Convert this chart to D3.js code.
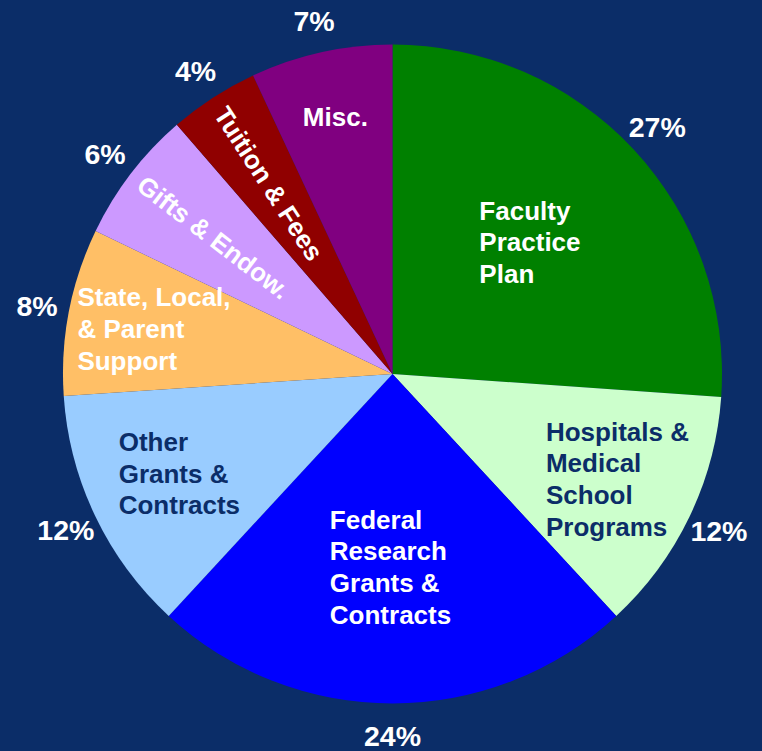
<!DOCTYPE html>
<html>
<head>
<meta charset="utf-8">
<script src="https://cdn.jsdelivr.net/npm/d3@7"></script>
<style>
  body { margin: 0; background: #0b2d68; }
  svg { display: block; }
  text { font-family: "Liberation Sans", Arial, sans-serif; font-weight: bold; }
</style>
</head>
<body>
<div id="chart"></div>
<script>
// data, clockwise from 12 o'clock
var labels = [
  ["Faculty", "Practice", "Plan"],
  ["Hospitals &", "Medical", "School", "Programs"],
  ["Federal", "Research", "Grants &", "Contracts"],
  ["Other", "Grants &", "Contracts"],
  ["State, Local,", "& Parent", "Support"],
  ["Gifts & Endow."],
  ["Tuition & Fees"],
  ["Misc."]
];
var shares = [26.1, 12.0, 23.75, 12.05, 8.2, 6.5, 4.4, 6.95];
var pctLabels = ["27%", "12%", "24%", "12%", "8%", "6%", "4%", "7%"];

// styling
var colors = ["#008000", "#ccffcc", "#0000ff", "#99ccff", "#ffbf66", "#cc99ff", "#900000", "#800080"];
var textColors = ["#fff", "#0b2d68", "#fff", "#0b2d68", "#fff", "#fff", "#fff", "#fff"];
var rotated = [false, false, false, false, false, true, true, false];
var labelR = [0.587, 0.737, 0.585, 0.70, 0.725, 0.683, 0.689, 0.80]; // fraction of radius
var labelShift = [-4, 6, -2, -5, -4, 0, 0, 0]; // small x nudge, px

var width = 762, height = 751;
var cx = 392.5, cy = 374, radius = 329.5;
var lineH = 31.7, fontSize = 26, capH = 0.716 * fontSize;

var svg = d3.select("#chart").append("svg")
  .attr("width", width)
  .attr("height", height);

svg.append("rect").attr("width", width).attr("height", height).attr("fill", "#0b2d68");

var g = svg.append("g").attr("transform", "translate(" + cx + "," + cy + ")");

var pie = d3.pie().sort(null).value(function (d) { return d; });
var arcs = pie(shares);

var arc = d3.arc().innerRadius(0).outerRadius(radius);

g.selectAll("path.slice")
  .data(arcs)
  .enter()
  .append("path")
  .attr("class", "slice")
  .attr("d", arc)
  .attr("fill", function (d, i) { return colors[i]; });

function midAngle(d) { return (d.startAngle + d.endAngle) / 2; }
function polar(a, r) { return [r * Math.sin(a), -r * Math.cos(a)]; }

// percent labels outside
g.selectAll("text.pct")
  .data(arcs)
  .enter()
  .append("text")
  .attr("class", "pct")
  .attr("x", function (d) { return polar(midAngle(d), 362)[0]; })
  .attr("y", function (d) { return polar(midAngle(d), 362)[1]; })
  .attr("dy", "0.36em")
  .attr("text-anchor", "middle")
  .attr("font-size", 28.5)
  .attr("fill", "#fff")
  .text(function (d, i) { return pctLabels[i]; });

// labels inside the slices
arcs.forEach(function (d, i) {
  var a = midAngle(d);
  var p = polar(a, labelR[i] * radius);
  var lines = labels[i];

  if (rotated[i]) {
    var deg = a * 180 / Math.PI + 90;
    g.append("text")
      .attr("transform", "translate(" + p[0] + "," + p[1] + ") rotate(" + deg + ")")
      .attr("text-anchor", "middle")
      .attr("dy", "0.36em")
      .attr("font-size", fontSize)
      .attr("fill", textColors[i])
      .text(lines[0]);
    return;
  }

  var t = g.append("text")
    .attr("font-size", fontSize)
    .attr("fill", textColors[i]);

  var blockH = (lines.length - 1) * lineH + capH;
  var y0 = p[1] - blockH / 2 + capH;

  var spans = t.selectAll("tspan")
    .data(lines)
    .enter()
    .append("tspan")
    .attr("y", function (l, k) { return y0 + k * lineH; })
    .text(function (l) { return l; });

  var maxW = 0;
  spans.each(function () { maxW = Math.max(maxW, this.getComputedTextLength()); });
  spans.attr("x", p[0] - maxW / 2 + labelShift[i]);
});
</script>
</body>
</html>
